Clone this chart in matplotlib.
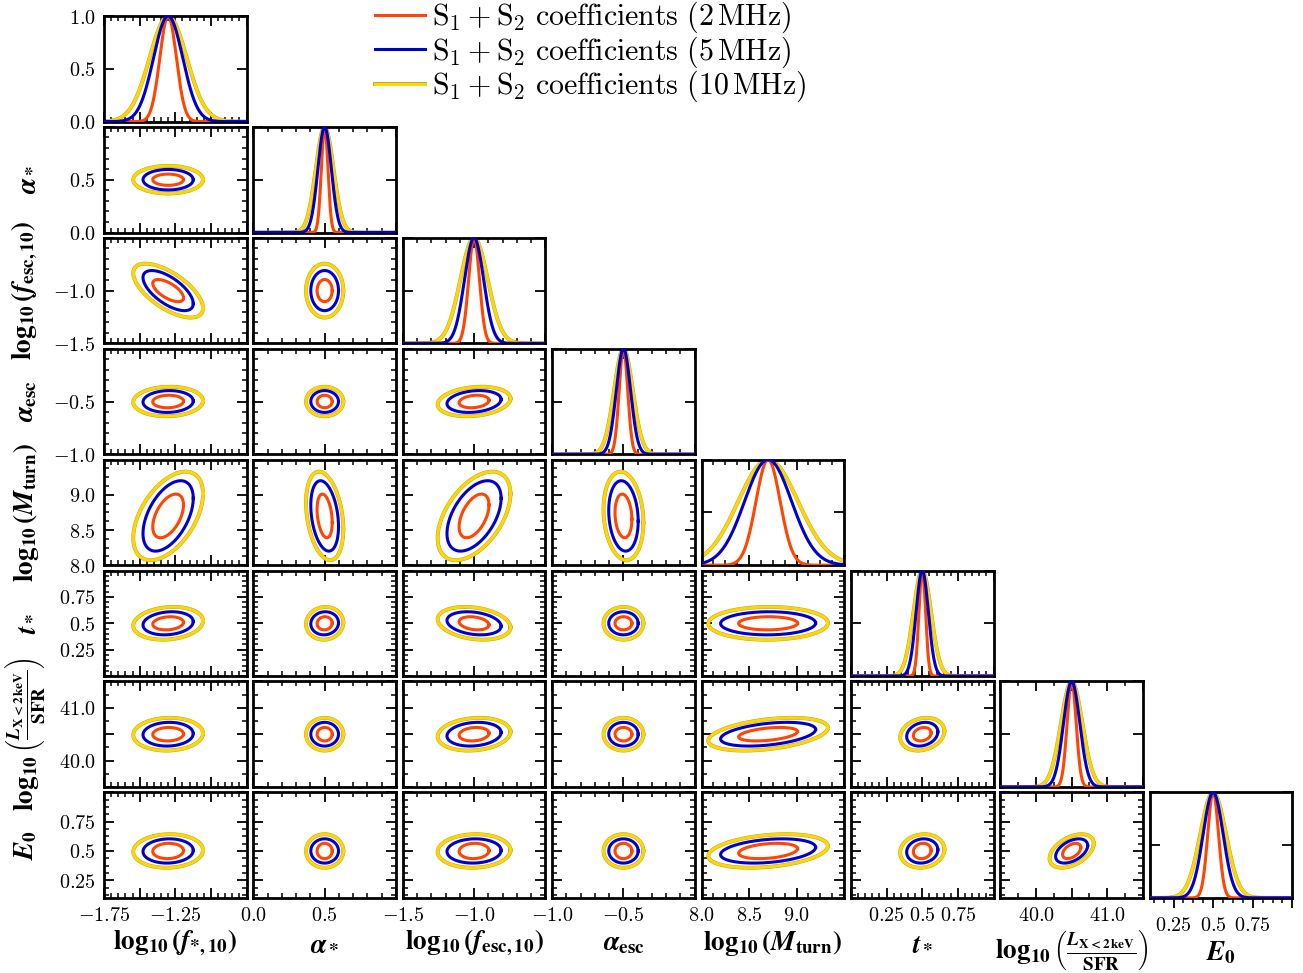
import numpy as np
import matplotlib.pyplot as plt
import matplotlib.patheffects as pe
from matplotlib.lines import Line2D
from matplotlib.ticker import MultipleLocator, NullLocator

plt.rcParams['mathtext.fontset'] = 'cm'
# bold serif set used for the parameter names
plt.rcParams['mathtext.rm'] = 'STIXGeneral:bold'
plt.rcParams['mathtext.it'] = 'STIXGeneral:italic:bold'
plt.rcParams['mathtext.bf'] = 'STIXGeneral:bold'
plt.rcParams['mathtext.sf'] = 'STIXGeneral:bold'

# parameters
names = [r'$\log_{10}(f_{*,10})$', r'$\alpha_*$', r'$\log_{10}(f_{\rm esc,10})$',
         r'$\alpha_{\rm esc}$', r'$\log_{10}(M_{\rm turn})$', r'$t_*$',
         r'$\log_{10}\left(\frac{L_{\rm X<2\,keV}}{\rm SFR}\right)$', r'$E_0$']
fiducial = [-1.3, 0.5, -1.0, -0.5, 8.7, 0.5, 40.5, 0.5]

# marginalised 1-sigma errors (2D contours)
sigma_2mhz = [0.071, 0.035, 0.069, 0.039, 0.204, 0.041, 0.084, 0.043]
sigma_5mhz = [0.116, 0.064, 0.125, 0.068, 0.329, 0.072, 0.148, 0.068]
sigma_10mhz = [0.161, 0.086, 0.168, 0.092, 0.414, 0.102, 0.204, 0.094]

# widths of the 1D curves on the diagonal
width_2mhz = [0.058, 0.023, 0.038, 0.030, 0.127, 0.023, 0.064, 0.034]
width_5mhz = [0.102, 0.047, 0.067, 0.050, 0.247, 0.043, 0.114, 0.063]
width_10mhz = [0.130, 0.062, 0.096, 0.066, 0.314, 0.062, 0.150, 0.081]

# correlation coefficients, lower triangle (row i, col j < i)
corr_rows = [
    [],
    [0.0],
    [-0.65, 0.0],
    [0.05, 0.0, 0.2],
    [0.5, -0.3, 0.5, -0.15],
    [0.15, 0.05, -0.25, 0.0, 0.02],
    [0.05, 0.0, 0.15, 0.0, 0.4, 0.2],
    [0.05, 0.0, 0.05, 0.0, 0.3, 0.1, 0.45],
]

series_labels = [r'$\mathrm{S_1 + S_2\ coefficients\ (2\,MHz)}$',
                 r'$\mathrm{S_1 + S_2\ coefficients\ (5\,MHz)}$',
                 r'$\mathrm{S_1 + S_2\ coefficients\ (10\,MHz)}$']

# axis setup per parameter
limits = [(-1.75, -0.75), (0, 1), (-1.5, -0.5), (-1, 0), (8, 9.5), (0, 1), (39.5, 41.5), (0.1, 1.0)]
ticks = [[-1.75, -1.5, -1.25, -1.0, -0.75], [0, 0.5, 1], [-1.5, -1.0, -0.5], [-1, -0.5, 0],
         [8, 8.5, 9, 9.5], [0, 0.25, 0.5, 0.75, 1], [39.5, 40, 40.5, 41, 41.5], [0.25, 0.5, 0.75, 1.0]]
tick_text = [['-1.75', '', '-1.25', '', ''], ['0.0', '0.5', ''], ['-1.5', '-1.0', ''], ['-1.0', '-0.5', ''],
             ['8.0', '8.5', '9.0', ''], ['', '0.25', '0.5', '0.75', ''], ['', '40.0', '', '41.0', ''],
             ['0.25', '0.5', '0.75', '']]
minor = [0.05, 0.1, 0.1, 0.1, 0.125, 0.05, 0.25, 0.0625]

colors = ['#FF4500', '#0000CD', '#FFD700']
zorders = [3, 4, 2]
sigmas = [sigma_2mhz, sigma_5mhz, sigma_10mhz]
widths = [width_2mhz, width_5mhz, width_10mhz]
LW = 2.2
yellow_fx = [pe.Stroke(linewidth=LW + 0.6, foreground='#b3a03c'), pe.Normal()]


def fx(k):
    return yellow_fx if k == 2 else None


def ellipse_xy(mx, my, sx, sy, rho, scale=1.52, npts=300):
    t = np.linspace(0, 2 * np.pi, npts)
    cov = np.array([[sx ** 2, rho * sx * sy], [rho * sx * sy, sy ** 2]])
    L = np.linalg.cholesky(cov)
    pts = scale * L @ np.vstack([np.cos(t), np.sin(t)])
    return mx + pts[0], my + pts[1]


def tex(s):
    return f'${s}$' if s else ''


W, H = 1303, 973
x0, dx, pw = 104, 149.4, 142.5
y0, dy, ph = 16, 110.9, 105.6
n = len(names)

fig = plt.figure(figsize=(W / 100, H / 100), dpi=100)

for i in range(n):
    for j in range(i + 1):
        left = x0 + j * dx
        top = y0 + i * dy
        ax = fig.add_axes([left / W, 1 - (top + ph) / H, pw / W, ph / H])
        for s in ax.spines.values():
            s.set_linewidth(2.0)

        if i == j:
            x = np.linspace(limits[j][0], limits[j][1], 600)
            for k in range(3):
                y = np.exp(-0.5 * ((x - fiducial[j]) / widths[k][j]) ** 2)
                ax.plot(x, y, color=colors[k], lw=LW, zorder=zorders[k], path_effects=fx(k))
            ax.set_ylim(0, 1)
            ax.set_yticks([0, 0.5, 1], labels=['$0.0$', '$0.5$', '$1.0$'])
            ax.yaxis.set_minor_locator(NullLocator())
        else:
            for k in range(3):
                ex, ey = ellipse_xy(fiducial[j], fiducial[i], sigmas[k][j], sigmas[k][i],
                                    corr_rows[i][j])
                ax.plot(ex, ey, color=colors[k], lw=LW, zorder=zorders[k], path_effects=fx(k))
            ax.set_ylim(*limits[i])
            ax.set_yticks(ticks[i], labels=[tex(t) for t in tick_text[i]])
            ax.yaxis.set_minor_locator(MultipleLocator(minor[i]))

        ax.set_xlim(*limits[j])
        ax.set_xticks(ticks[j], labels=[tex(t) for t in tick_text[j]])
        ax.xaxis.set_minor_locator(MultipleLocator(minor[j]))

        ax.tick_params(which='both', direction='in', top=True, right=True, labelsize=14.5, pad=6)
        ax.tick_params(which='major', length=7, width=1.3)
        ax.tick_params(which='minor', length=3.5, width=1.1)
        ax.tick_params(labelbottom=(i == n - 1), labelleft=(j == 0))
        if i == j and i > 0:
            ax.tick_params(labelleft=False)
        if i == j == n - 1:
            ax.tick_params(axis='x', which='both', direction='out', top=False)

        if i == n - 1:
            ax.set_xlabel(names[j], fontsize=19.5, math_fontfamily='custom')
            ypos = {6: -0.50, 7: -0.52}.get(j, -0.43)
            ax.xaxis.set_label_coords(0.5, ypos)
            ax.xaxis.label.set_va('center')
        if j == 0 and i > 0:
            ax.set_ylabel(names[i], fontsize=19.5, math_fontfamily='custom')
            ax.yaxis.set_label_coords(-0.55, 0.5)
            ax.yaxis.label.set_va('center')

handles = [Line2D([], [], color=c, lw=LW, path_effects=fx(k)) for k, c in enumerate(colors)]
fig.legend(handles, series_labels, loc='upper left', bbox_to_anchor=(375 / W, 1.0),
           frameon=False, fontsize=21.5, handlelength=1.67, handletextpad=0.23,
           labelspacing=-0.03, borderaxespad=0.0, borderpad=0.0)

fig.savefig('out.png', dpi=100)
